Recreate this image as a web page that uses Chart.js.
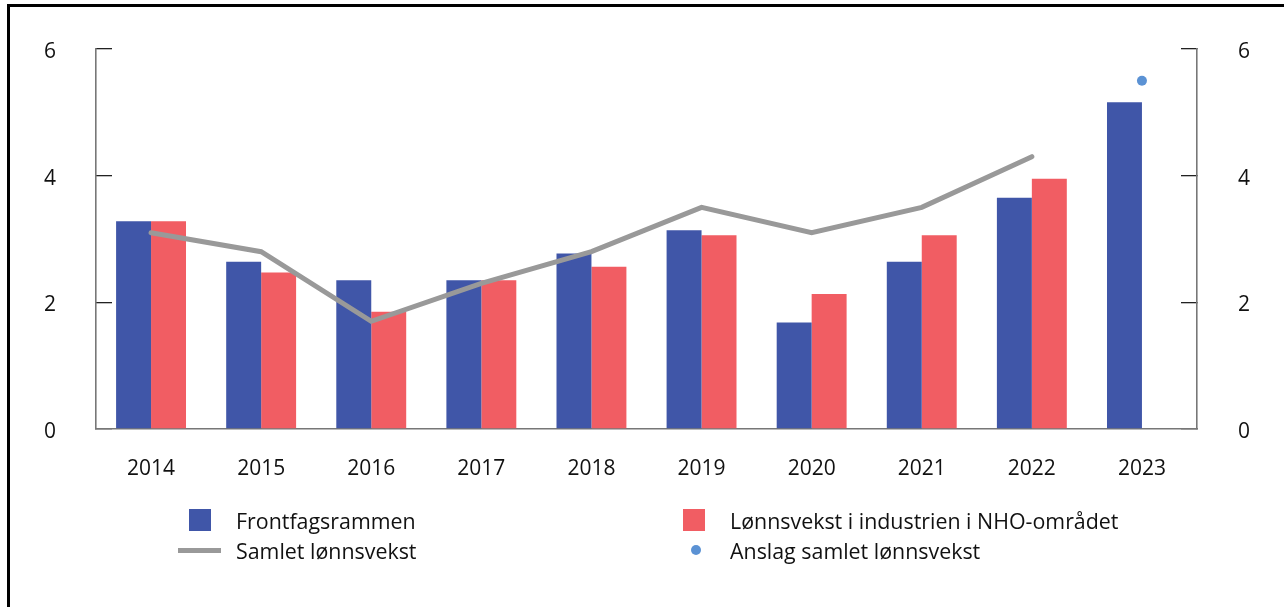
<!DOCTYPE html>
<html lang="no">
<head>
<meta charset="utf-8">
<title>Lønnsvekst og frontfagsrammen</title>
<script src="https://cdn.jsdelivr.net/npm/chart.js@4/dist/chart.umd.min.js"></script>
<style>
  html, body { margin: 0; padding: 0; background: #fff; overflow: hidden; }
  #wrap { position: relative; width: 1284px; height: 607px; }
  #frame {
    position: absolute; left: 7px; top: 4px; width: 1300px; height: 640px;
    border-left: 3px solid #000; border-top: 3px solid #000;
  }
  #chart { position: absolute; left: 0; top: 0; }
  .lg-item {
    position: absolute; font-family: 'Open Sans', sans-serif; font-size: 21.4px;
    color: #111; white-space: nowrap; line-height: 24px;
  }
  .lg-mark { position: absolute; }
</style>
</head>
<body>
<div id="wrap">
  <div id="frame"></div>
  <canvas id="chart" width="1284" height="607"></canvas>
  <div id="legend"></div>
</div>
<script>
// Years on the category axis
const years = ['2014', '2015', '2016', '2017', '2018', '2019', '2020', '2021', '2022', '2023'];

// Frontfagsrammen, per cent
const frontfagsrammen = [3.28, 2.64, 2.35, 2.35, 2.77, 3.14, 1.68, 2.64, 3.65, 5.16];

// Lønnsvekst i industrien i NHO-området, per cent
const industriNHO = [3.28, 2.47, 1.85, 2.35, 2.56, 3.06, 2.13, 3.06, 3.95, null];

// Samlet lønnsvekst, per cent
const samletLonnsvekst = [3.1, 2.8, 1.7, 2.3, 2.8, 3.5, 3.1, 3.5, 4.3, null];

// Anslag samlet lønnsvekst, per cent
const anslagSamlet = [null, null, null, null, null, null, null, null, null, 5.5];

// Y-axis ticks
const yTicks = [0, 2, 4, 6];

const BLUE = '#4056A8';
const RED = '#F15D63';
const GREY = '#999999';
const DOT = '#5B92D4';

Chart.defaults.font.family = "'Open Sans', sans-serif";
Chart.defaults.font.size = 21;
Chart.defaults.color = '#111';

function valueAxis(position, width, pad) {
  return {
    type: 'linear',
    position: position,
    min: yTicks[0],
    max: yTicks[yTicks.length - 1],
    afterBuildTicks: (s) => { s.ticks = yTicks.map(v => ({ value: v })); },
    afterFit: (s) => {
      s.width = width;
      // labels sit well away from the axis; keep that gap from growing the layout
      s.paddingTop = 0;
      s.paddingBottom = 0;
    },
    grid: {
      drawOnChartArea: false,
      drawTicks: true,
      tickLength: -16,
      color: '#222',
      lineWidth: 1.3
    },
    border: { display: true, color: '#777', width: 1.6 },
    ticks: { padding: pad, labelOffset: 3, color: '#111' }
  };
}

const chart = new Chart(document.getElementById('chart'), {
  data: {
    labels: years,
    datasets: [
      {
        type: 'bar',
        label: 'Frontfagsrammen',
        data: frontfagsrammen,
        backgroundColor: BLUE,
        categoryPercentage: 0.635,
        barPercentage: 1,
        order: 2
      },
      {
        type: 'bar',
        label: 'Lønnsvekst i industrien i NHO-området',
        data: industriNHO,
        backgroundColor: RED,
        categoryPercentage: 0.635,
        barPercentage: 1,
        order: 2
      },
      {
        type: 'line',
        label: 'Samlet lønnsvekst',
        data: samletLonnsvekst,
        borderColor: GREY,
        borderWidth: 5,
        borderCapStyle: 'round',
        borderJoinStyle: 'miter',
        pointRadius: 0,
        tension: 0,
        spanGaps: false,
        order: 1
      },
      {
        type: 'line',
        label: 'Anslag samlet lønnsvekst',
        data: anslagSamlet,
        showLine: false,
        pointRadius: 5,
        pointBorderWidth: 0,
        pointBackgroundColor: DOT,
        pointBorderColor: DOT,
        order: 0
      }
    ]
  },
  options: {
    responsive: false,
    animation: false,
    layout: { padding: { top: 49, bottom: 128, left: 1, right: 0 } },
    plugins: { legend: { display: false }, tooltip: { enabled: false } },
    scales: {
      x: {
        type: 'category',
        position: 'bottom',
        offset: true,
        afterFit: (s) => { s.height = 50; },
        grid: { display: true, drawOnChartArea: false, drawTicks: false },
        border: { display: true, color: '#777', width: 1.6 },
        ticks: { padding: 27, maxRotation: 0, autoSkip: false, color: '#111' }
      },
      y: valueAxis('left', 95, 56),
      y2: valueAxis('right', 87, 57)
    }
  }
});

// Legend in two columns beneath the plot, built from the chart's datasets
const legendSlots = [
  { x: 236, y: 509 },
  { x: 730, y: 509 },
  { x: 236, y: 539 },
  { x: 730, y: 539 }
];
const legendOrder = [0, 1, 2, 3];
const legendEl = document.getElementById('legend');
legendOrder.forEach((dsIndex, i) => {
  const ds = chart.data.datasets[dsIndex];
  const slot = legendSlots[i];
  const item = document.createElement('div');
  item.className = 'lg-item';
  item.style.left = slot.x + 'px';
  item.style.top = slot.y + 'px';
  item.textContent = ds.label;
  const mark = document.createElement('div');
  mark.className = 'lg-mark';
  if (ds.type === 'bar') {
    Object.assign(mark.style, { left: '-47px', top: '0px', width: '22px', height: '22px', background: ds.backgroundColor });
  } else if (ds.showLine === false) {
    Object.assign(mark.style, { left: '-39px', top: '6px', width: '10px', height: '10px', borderRadius: '50%', background: ds.pointBackgroundColor });
  } else {
    Object.assign(mark.style, { left: '-58px', top: '9px', width: '43px', height: '5px', background: ds.borderColor });
  }
  item.appendChild(mark);
  legendEl.appendChild(item);
});
</script>
</body>
</html>
